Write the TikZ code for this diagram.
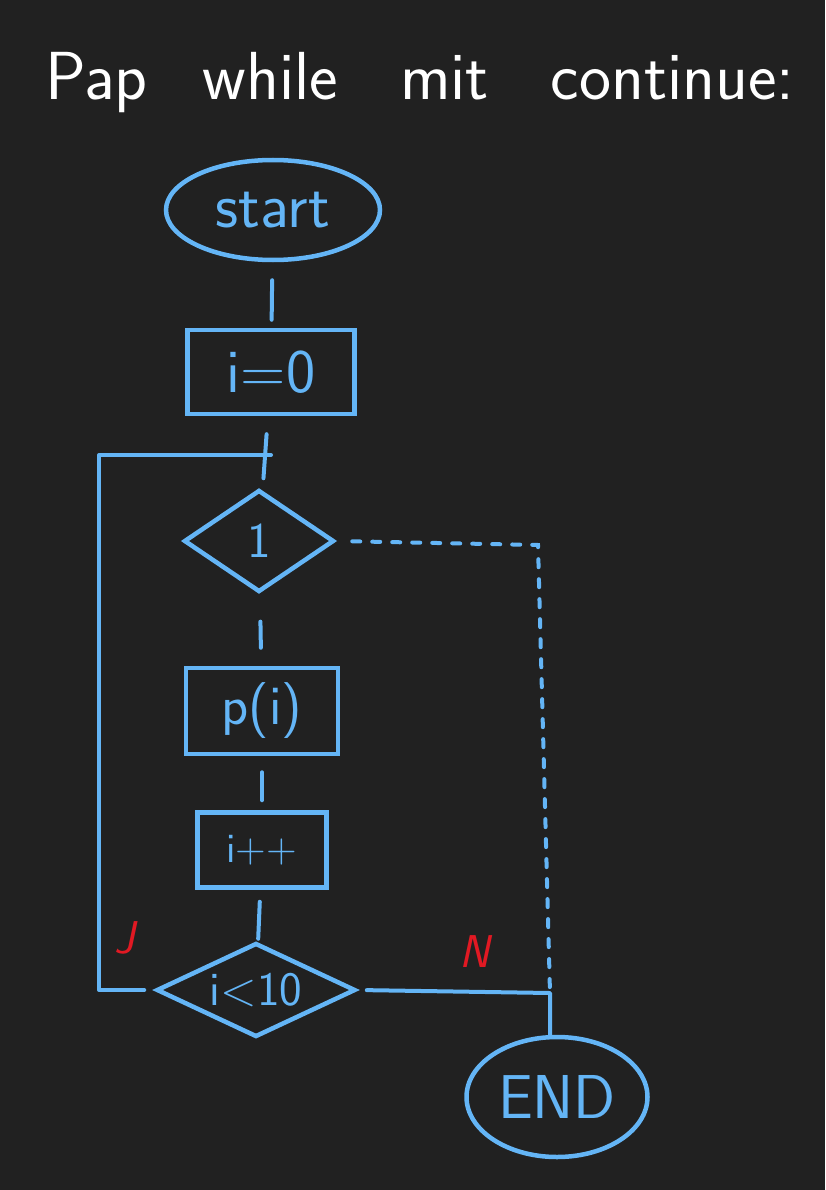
\documentclass[tikz,border=0pt]{standalone}
\usepackage{fontspec}
\usetikzlibrary{shapes.geometric}
\definecolor{bg}{RGB}{33,33,33}
\definecolor{ink}{RGB}{100,181,246}
\definecolor{mark}{RGB}{225,25,35}
\newcommand{\fs}[1]{\fontsize{#1}{#1}\selectfont}
\begin{document}
\begin{tikzpicture}[x=1pt,y=-1pt,
  shp/.style={draw=ink, line width=4.5pt, text=ink, inner sep=0pt, font=\sffamily},
  txt/.style={text=ink, font=\sffamily},
  flow/.style={draw=ink, line width=4pt, line cap=round, line join=round},
  dots/.style={draw=ink, line width=4pt, line cap=round, dash pattern=on 8pt off 12pt},
  lbl/.style={text=mark, font=\sffamily\itshape\fs{46}}]
\fill[bg] (0,0) rectangle (825,1190);
\useasboundingbox (0,0) rectangle (825,1190);

\node[anchor=base west, inner sep=0pt, text=white, font=\sffamily\fs{68}] (title) at (45,100)
  {Pap\hspace{55pt}while\hspace{62pt}mit\hspace{62pt}continue:};

\node[shp, ellipse, minimum width=214pt, minimum height=100pt,
      label={[txt, font=\sffamily\fs{64}]center:start}] (start) at (273,210) {};
\node[shp, rectangle, minimum width=167pt, minimum height=84pt, font=\sffamily\fs{62}] (init) at (271,372) {i=0};
\node[shp, diamond, minimum width=150pt, minimum height=102pt,
      label={[txt, font=\sffamily\fs{50}]center:1}] (loop) at (259,541) {};
\node[shp, rectangle, minimum width=152pt, minimum height=86pt, font=\sffamily\fs{56}] (body) at (262,711) {p(i)};
\node[shp, rectangle, minimum width=129pt, minimum height=75pt, font=\sffamily\fs{42}] (inc) at (262,850) {i++};
\node[shp, diamond, minimum width=199pt, minimum height=94pt,
      label={[txt, font=\sffamily\fs{48}]center:i<10}] (cond) at (256,990) {};
\node[shp, ellipse, minimum width=181pt, minimum height=120pt,
      label={[txt, font=\sffamily\fs{62}]center:END}] (end) at (557,1097) {};

\coordinate (lt) at (99,455);
\coordinate (jn) at (271,455);
\coordinate (dc) at (538,545);
\coordinate (nj) at (550,993);

\draw[flow, shorten <=18pt, shorten >=8pt] (start) -- (init);
\draw[flow, shorten <=18pt, shorten >=12pt] (init) -- (loop);
\draw[flow, shorten <=28pt, shorten >=18pt] (loop) -- (body);
\draw[flow, shorten <=16pt, shorten >=10pt] (body) -- (inc);
\draw[flow, shorten <=12pt, shorten >=3pt] (inc) -- (cond);

\draw[flow, shorten <=10pt] (cond.west) -| (lt) -- (jn);
\draw[dots, shorten <=16pt] (loop.east) -- (dc) -- (nj);
\draw[flow, shorten <=9pt] (cond.east) -- (nj) -- (nj |- end.north);

\node[lbl] (j) at (125,938) {J};
\node[lbl] (n) at (475,952) {N};
\end{tikzpicture}
\end{document}
